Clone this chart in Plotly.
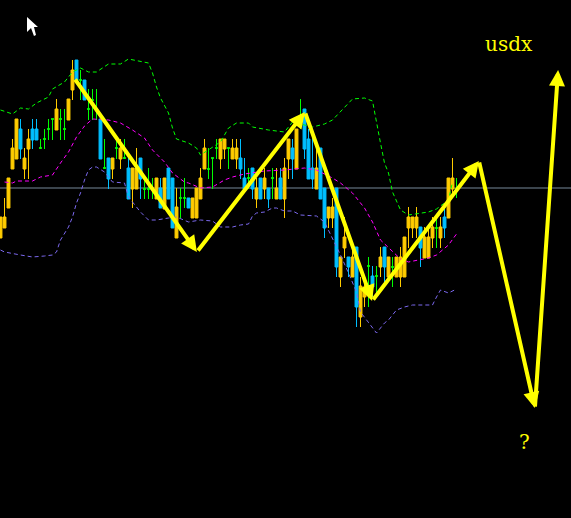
import plotly.graph_objects as go

# x = bar index, y = price level
gold = [
 (0,301,280,301,280),(1,301,290,320,290),(2,340,310,340,310),(3,370,349,379,349),(4,399,359,399,359),
 (6,360,349,370,339),(7,379,369,389,339),(14,409,388,419,388),(17,419,398,419,398),(18,448,428,458,418),
 (28,360,349,360,339),(30,370,359,379,349),(33,350,329,350,310),(34,350,329,370,329),(39,340,319,340,319),
 (41,340,309,340,309),(44,311,280,330,280),(48,320,300,320,300),(49,330,300,330,300),(50,340,319,350,319),
 (51,370,349,379,349),(55,379,359,379,349),(56,379,369,379,359),(58,370,359,379,359),(59,370,359,379,349),
 (64,330,319,340,310),(66,340,329,350,319),(69,330,319,350,319),(71,350,319,360,300),(72,379,359,379,339),
 (74,389,349,389,349),(79,350,329,370,329),(82,311,300,311,290),(83,311,300,320,290),(85,261,241,261,231),
 (86,281,270,301,260),(88,261,241,271,241),(90,232,201,241,191),(91,231,221,241,211),(95,261,251,271,241),
 (97,261,241,261,241),(99,261,241,261,241),(100,261,241,271,231),(101,281,241,281,241),(102,301,290,311,270),
 (103,301,290,301,280),(104,301,290,311,280),(106,281,260,291,260),(107,281,260,291,260),(108,291,280,301,270),
 (110,291,280,301,270),(112,340,300,340,300),(113,340,329,360,320),
]
blue = [
 (5,389,369,399,359),(8,389,378,399,369),(9,389,378,399,378),(19,458,438,458,438),(21,438,418,438,418),
 (25,399,359,399,359),(27,360,339,360,329),(32,350,319,360,319),(35,360,339,360,319),(40,330,310,340,310),
 (42,350,319,350,319),(43,340,290,340,290),(47,320,310,320,310),(60,360,349,379,339),(61,340,329,360,329),
 (63,350,329,350,319),(65,340,319,340,319),(67,330,319,330,310),(70,340,319,350,319),(73,370,359,379,339),
 (76,409,369,409,359),(77,379,339,389,339),(78,350,339,389,329),(80,370,319,370,319),(81,330,290,330,280),
 (84,330,251,330,241),(87,261,251,261,241),(89,271,211,271,191),(93,242,231,252,221),(96,271,251,271,234),
 (105,291,270,291,251),(111,301,290,311,280),
]
doji = [
 (10,379,369,370),(11,389,369,379),(12,399,378,389),(13,399,378,399),(15,409,378,399),(16,409,378,389),
 (20,448,418,438),(22,429,398,409),(23,429,398,418),(24,429,398,408),(26,379,349,350),(29,379,359,370),
 (31,379,359,360),(36,340,319,329),(37,350,319,329),(38,340,319,329),(45,330,300,320),(46,340,310,320),
 (52,370,339,349),(53,360,329,360),(54,379,359,370),(57,370,349,370),(62,350,329,340),(68,350,319,340),
 (75,419,389,399),(92,261,211,252),(94,252,221,242),(98,261,231,251),(109,301,270,290),(114,340,320,329),
]
upper_x = [0,3,5,7,9,12,13,16,18,20,22,24,27,30,32,36,37,38,39,40,42,43,44,47,49,50,55,56,57,59,62,63,67,71,73,78,81,83,85,88,91,93,95,96,97,98,100,102,107,109,112,113]
upper_y = [408,404,410,409,415,421,429,436,446,450,446,446,454,454,459,456,455,445,431,420,405,390,379,375,370,363,376,383,390,395,395,391,388,386,396,391,394,398,406,419,420,417,375,355,345,326,308,303,306,309,318,336]
mid_x = [1,3,4,8,10,13,15,17,19,21,23,27,30,33,36,38,41,43,46,47,50,53,56,58,61,66,71,76,79,83,85,88,91,93,95,98,100,102,107,109,112,114]
mid_y = [336,335,337,337,341,343,355,366,381,392,399,398,395,388,380,368,356,345,336,335,330,331,338,341,344,347,348,350,348,340,335,325,310,296,278,266,259,256,260,263,273,284]
lower_x = [0,1,5,8,11,13,14,15,17,18,19,20,21,22,23,24,26,28,31,32,33,35,37,39,42,44,47,50,53,55,58,60,62,63,64,66,68,69,71,73,75,79,81,83,85,87,89,90,92,94,96,97,99,101,103,108,109,110,112,114]
lower_y = [268,266,263,261,262,263,266,278,291,301,315,325,338,348,351,351,346,336,335,321,316,306,298,298,300,301,296,298,297,291,291,293,294,302,305,306,310,310,307,307,303,302,296,280,263,245,226,206,195,185,195,198,208,211,213,213,221,228,225,229]
forecast_x = [18.4,49.1,76.1,92.9,119.6,133.6,139.4]
forecast_y = [440,266,406,217,357,110,448]
ref_price = 330
title_text = "usdx"
query_text = "?"

GOLD, BLUE, GREEN, YELLOW = "#FFCC00", "#00BFFF", "#00FF00", "#FFFF00"
W, H = 571, 518

fig = go.Figure()

def candles(rows, colour, rising):
    k = [r[0] for r in rows]
    top = [r[1] for r in rows]; bot = [r[2] for r in rows]
    hi = [r[3] for r in rows]; lo = [r[4] for r in rows]
    o, c = (bot, top) if rising else (top, bot)
    side = dict(line=dict(color=colour, width=1), fillcolor=colour)
    fig.add_trace(go.Candlestick(x=k, open=o, high=hi, low=lo, close=c,
                                 increasing=side, decreasing=side, whiskerwidth=0))

for xs, ys, col in [(upper_x, upper_y, "#00FF00"), (mid_x, mid_y, "#FF00FF"), (lower_x, lower_y, "#7B68EE")]:
    fig.add_trace(go.Scatter(x=xs, y=ys, mode="lines",
                             line=dict(color=col, width=1, dash="4px,3px")))
candles(gold, GOLD, True)
candles(blue, BLUE, False)
side = dict(line=dict(color=GREEN, width=1), fillcolor=GREEN)
fig.add_trace(go.Candlestick(x=[r[0] for r in doji], open=[r[3] for r in doji],
                             high=[r[1] for r in doji], low=[r[2] for r in doji], close=[r[3] for r in doji],
                             increasing=side, decreasing=side, whiskerwidth=0))

fig.add_hline(y=ref_price, line=dict(color="#778899", width=1), layer="below")

for i in range(1, len(forecast_x)):
    fig.add_annotation(x=forecast_x[i], y=forecast_y[i], ax=forecast_x[i-1], ay=forecast_y[i-1],
                       xref="x", yref="y", axref="x", ayref="y", text="", showarrow=True,
                       arrowhead=2, arrowsize=0.8, arrowwidth=4, arrowcolor=YELLOW, standoff=0)

fig.add_annotation(xref="paper", yref="paper", x=509/W, y=1-44/H, xanchor="center", yanchor="middle",
                   text=title_text, showarrow=False,
                   font=dict(family="DejaVu Serif", size=20, color=YELLOW))
fig.add_annotation(xref="paper", yref="paper", x=524/W, y=1-442/H, xanchor="center", yanchor="middle",
                   text=query_text, showarrow=False,
                   font=dict(family="DejaVu Serif", size=20, color=YELLOW))

# mouse pointer
pointer = [(27,17),(27,32),(31,28),(34,36),(36,35),(34,27),(38,27)]
path = "M " + " L ".join(f"{px/W:.4f},{1-py/H:.4f}" for px, py in pointer) + " Z"
fig.add_shape(type="path", path=path, xref="paper", yref="paper", fillcolor="white", line=dict(width=0))

fig.update_layout(width=W, height=H, margin=dict(l=0, r=0, t=0, b=0), showlegend=False,
                  paper_bgcolor="black", plot_bgcolor="black", boxgap=0.28, boxgroupgap=0,
                  xaxis=dict(range=[-0.125, 142.625], visible=False, rangeslider=dict(visible=False)),
                  yaxis=dict(range=[0, 518], visible=False))
fig.write_html("out.html", config=dict(displayModeBar=False),
               post_script="document.body.style.margin='0';document.body.style.background='black';document.body.style.overflow='hidden';")
